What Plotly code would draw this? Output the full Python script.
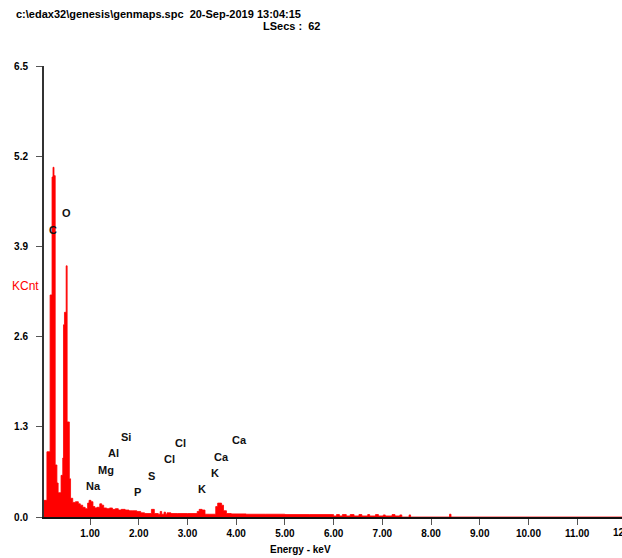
import plotly.graph_objects as go

# ---- data ----
energy_kev = [0.055, 0.115, 0.18, 0.22, 0.24, 0.26, 0.285, 0.32, 0.345, 0.405,
              0.44, 0.455, 0.475, 0.51, 0.53, 0.575, 0.60, 0.645, 0.70, 0.76,
              0.80, 0.85, 0.90, 0.95, 0.98, 1.02, 1.06, 1.10, 1.14, 1.20,
              1.24, 1.28, 1.34, 1.40, 1.46, 1.52, 1.58, 1.64, 1.72, 1.80,
              1.88, 1.96, 2.04, 2.12, 2.17, 2.26, 2.32, 2.40, 2.44, 2.47,
              2.52, 2.55, 2.58, 2.66, 2.80, 3.00, 3.20, 3.24, 3.30, 3.36,
              3.45, 3.58, 3.62, 3.70, 3.74, 3.80, 3.90, 4.20, 4.60, 5.00,
              5.50, 5.97, 6.00, 6.06, 6.12, 6.18, 6.26, 6.34, 6.42, 6.52,
              6.58, 6.70, 6.74, 6.86, 6.92, 7.02, 7.06, 7.20, 7.26, 7.36,
              7.40, 7.55, 7.58, 8.38, 8.41, 11.92]
kcnt = [0.24, 0.94, 3.20, 4.90, 5.04, 4.92, 0.75, 0.49, 0.35, 0.60,
        0.85, 2.77, 2.95, 3.62, 1.37, 0.55, 0.27, 0.21, 0.22, 0.19,
        0.17, 0.14, 0.12, 0.20, 0.24, 0.22, 0.15, 0.13, 0.14, 0.19,
        0.17, 0.13, 0.12, 0.13, 0.11, 0.12, 0.10, 0.11, 0.10, 0.09,
        0.09, 0.08, 0.06, 0.05, 0.05, 0.11, 0.05, 0.04, 0.08, 0.04,
        0.07, 0.04, 0.06, 0.05, 0.05, 0.05, 0.08, 0.11, 0.10, 0.04,
        0.04, 0.15, 0.20, 0.17, 0.09, 0.05, 0.045, 0.04, 0.04, 0.035,
        0.035, 0.035, 0.015, 0.035, 0.015, 0.035, 0.015, 0.035, 0.015, 0.035,
        0.015, 0.035, 0.015, 0.035, 0.015, 0.03, 0.015, 0.035, 0.015, 0.03,
        0.0, 0.03, 0.0, 0.04, 0.0, 0.0]

element_labels = ["C", "O", "Na", "Mg", "Al", "Si", "P", "S", "Cl", "Cl", "K", "K", "Ca", "Ca"]
element_kev = [0.24, 0.507, 1.08, 1.33, 1.49, 1.74, 1.97, 2.27, 2.64, 2.85, 3.30, 3.57, 3.69, 4.06]
label_kcnt = [4.14, 4.38, 0.45, 0.68, 0.92, 1.15, 0.36, 0.59, 0.84, 1.07, 0.40, 0.63, 0.86, 1.11]

y_ticks = [0.0, 1.3, 2.6, 3.9, 5.2, 6.5]
x_ticks = [1, 2, 3, 4, 5, 6, 7, 8, 9, 10, 11]
x_cut_tick = 12
title_line1 = "c:\\edax32\\genesis\\genmaps.spc  20-Sep-2019 13:04:15"
title_line2 = "LSecs :  62"
x_title = "Energy - keV"
y_title = "KCnt"

X_RANGE = [0.055, 11.92]
FONT = "Liberation Sans Narrow, Arial Narrow, Liberation Sans, Arial, sans-serif"

fig = go.Figure()
fig.add_trace(go.Scatter(
    x=energy_kev, y=kcnt, mode="lines", line=dict(color="#ff0000", width=0.8, shape="hv"),
    fill="tozeroy", fillcolor="#ff0000", hoverinfo="skip", showlegend=False,
))

ann = []
for t, xv, yv in zip(element_labels, element_kev, label_kcnt):
    ann.append(dict(x=xv, y=yv, xref="x", yref="y", text="<b>" + t + "</b>", showarrow=False,
                    font=dict(family=FONT, size=11, color="#111111"),
                    xanchor="center", yanchor="middle"))

ann.append(dict(x=(14 - 44) / 578, y=(517 - 14) / 451, xref="paper", yref="paper",
                text="<b>" + title_line1 + "</b>", showarrow=False, xanchor="left", yanchor="middle",
                font=dict(family=FONT, size=11, color="#000000")))
ann.append(dict(x=(322 - 44) / 578, y=(517 - 26) / 451, xref="paper", yref="paper",
                text="<b>" + title_line2 + "</b>", showarrow=False, xanchor="right", yanchor="middle",
                font=dict(family=FONT, size=11, color="#000000")))
ann.append(dict(x=(10 - 44) / 578, y=(517 - 286) / 451, xref="paper", yref="paper",
                text=y_title, showarrow=False, xanchor="left", yanchor="middle",
                font=dict(family=FONT, size=12, color="#ff0000")))
ann.append(dict(x=(300 - 44) / 578, y=(517 - 549) / 451, xref="paper", yref="paper",
                text="<b>" + x_title + "</b>", showarrow=False, xanchor="center", yanchor="middle",
                font=dict(family=FONT, size=10, color="#000000")))
ann.append(dict(x=(x_cut_tick - X_RANGE[0]) / (X_RANGE[1] - X_RANGE[0]), y=(517 - 532) / 451,
                xref="paper", yref="paper", text="<b>%.2f</b>" % x_cut_tick, showarrow=False,
                xanchor="center", yanchor="middle",
                font=dict(family=FONT, size=10, color="#000000")))

fig.update_layout(
    width=622, height=558,
    margin=dict(l=44, r=0, t=66, b=41, pad=0),
    paper_bgcolor="white", plot_bgcolor="white",
    annotations=ann,
    xaxis=dict(range=X_RANGE, tickvals=x_ticks,
               ticktext=["<b>%.2f</b>" % v for v in x_ticks],
               showgrid=False, zeroline=False, showline=True, linecolor="#111111", linewidth=2,
               ticks="outside", ticklen=6, tickwidth=1, tickcolor="#555555",
               tickfont=dict(family=FONT, size=10, color="#000000")),
    yaxis=dict(range=[0, 6.5], tickvals=y_ticks,
               ticktext=["<b>%.1f</b>" % v for v in y_ticks],
               showgrid=False, zeroline=False, showline=True, linecolor="#333333", linewidth=2,
               ticks="outside", ticklen=6, tickwidth=1, tickcolor="#555555",
               ticklabelstandoff=6,
               tickfont=dict(family=FONT, size=10, color="#000000")),
)

fig.write_html("out.html", config={"displayModeBar": False},
               post_script="document.body.style.margin='0';document.body.style.overflow='hidden';")
